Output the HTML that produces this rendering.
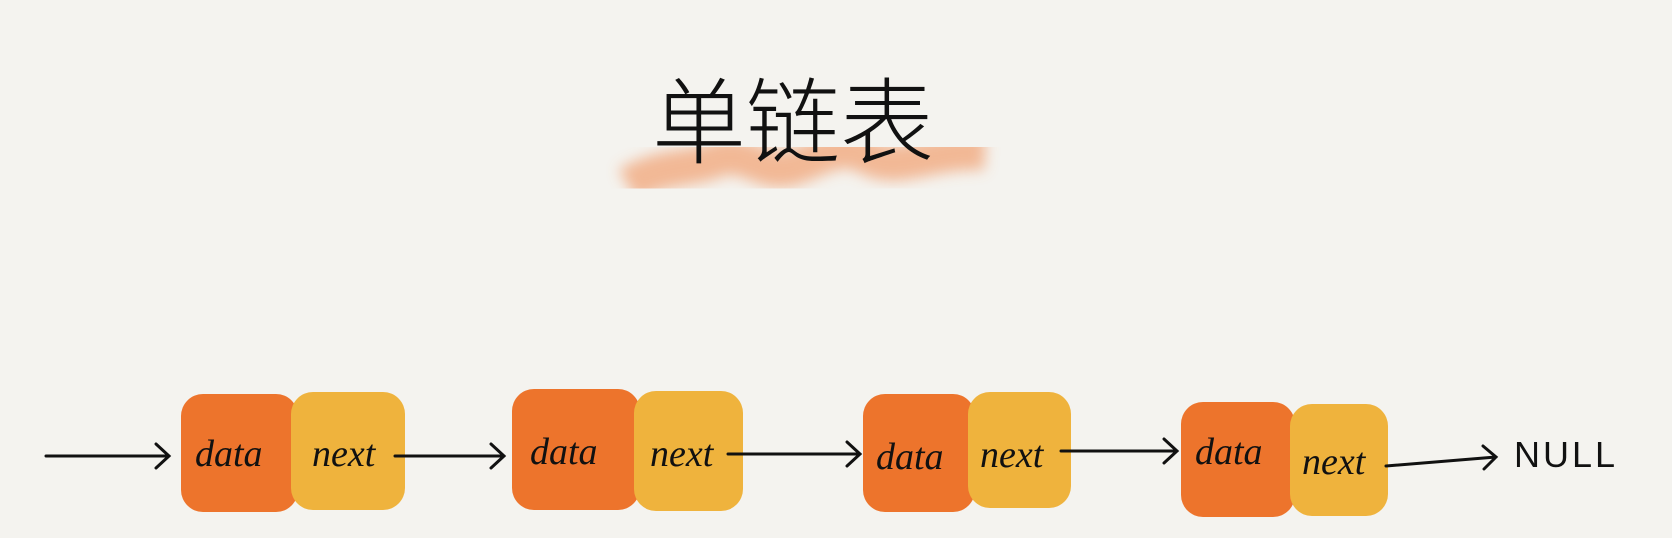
<!DOCTYPE html>
<html><head><meta charset="utf-8"><style>
html,body{margin:0;padding:0;background:#f4f3ef;}
body{width:1672px;height:538px;position:relative;overflow:hidden;font-family:"Liberation Sans","Noto Sans CJK SC",sans-serif;}
.b{position:absolute;border-radius:22px;}
.d{background:#ed742c;}
.n{background:#efb33d;}
.t{position:absolute;font-size:38px;color:#111;font-family:"Liberation Serif",serif;font-style:italic;}
</style></head><body>
<svg width="1672" height="538" style="position:absolute;left:0;top:0">
<defs><filter id="bl"><feGaussianBlur stdDeviation="7"/></filter></defs>
<path d="M628 185 C660 165 690 170 715 160 C745 148 760 175 790 168 C820 160 840 140 870 158 C900 172 930 150 985 152" stroke="#f2ae86" stroke-width="36" fill="none" filter="url(#bl)" opacity="0.85"/>
</svg>
<div class="b d" style="left:181px;top:394px;width:117px;height:118px"></div>
<div class="b n" style="left:291px;top:392px;width:114px;height:118px"></div>
<div class="b d" style="left:512px;top:389px;width:128px;height:121px"></div>
<div class="b n" style="left:634px;top:391px;width:109px;height:120px"></div>
<div class="b d" style="left:863px;top:394px;width:112px;height:118px"></div>
<div class="b n" style="left:968px;top:392px;width:103px;height:116px"></div>
<div class="b d" style="left:1181px;top:402px;width:114px;height:115px"></div>
<div class="b n" style="left:1290px;top:404px;width:98px;height:112px"></div>
<div class="t" style="left:195px;top:432px">data</div>
<div class="t" style="left:312px;top:432px">next</div>
<div class="t" style="left:530px;top:430px">data</div>
<div class="t" style="left:650px;top:432px">next</div>
<div class="t" style="left:876px;top:435px">data</div>
<div class="t" style="left:980px;top:433px">next</div>
<div class="t" style="left:1195px;top:430px">data</div>
<div class="t" style="left:1302px;top:440px">next</div>
<div style="position:absolute;left:1514px;top:434px;font-size:36px;color:#111;letter-spacing:3px">NULL</div>
<div style="position:absolute;left:652px;top:48px;font-size:94px;color:#111;font-family:'Noto Sans CJK SC',sans-serif;font-weight:300;letter-spacing:0px">单链表</div>
<svg width="1672" height="538" style="position:absolute;left:0;top:0" fill="none" stroke="#111" stroke-width="3" stroke-linecap="round">
<path d="M46 456 L169 456 M156 444 L169 456 L156 468"/>
<path d="M395 456 L504 456 M491 444 L504 456 L491 468"/>
<path d="M728 454 L860 454 M847 442 L860 454 L847 466"/>
<path d="M1061 451 L1177 451 M1164 439 L1177 451 L1164 463"/>
<path d="M1386 466 L1496 457 M1483 446 L1496 457 L1484 469"/>
</svg>
</body></html>
